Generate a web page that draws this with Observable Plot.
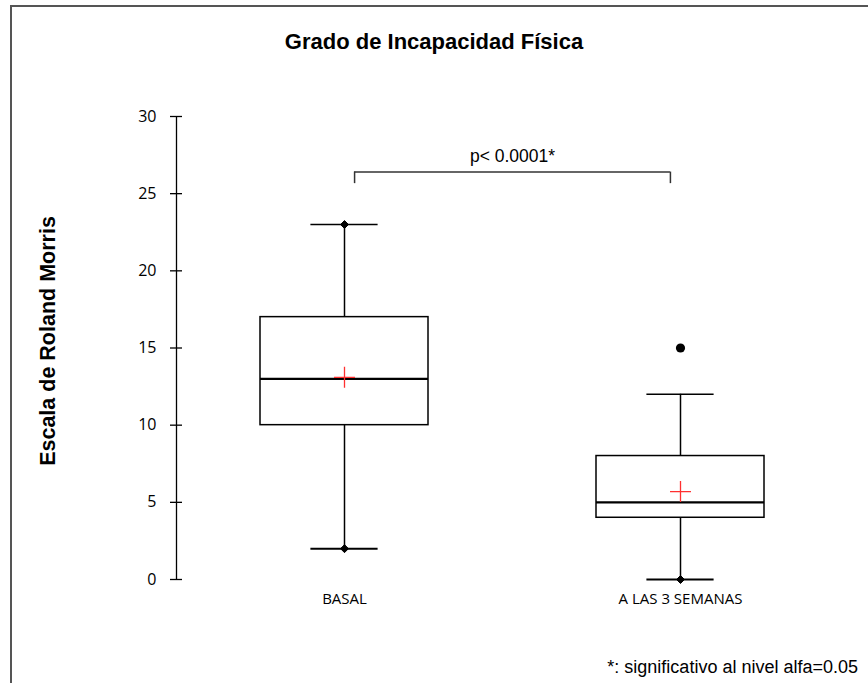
<!DOCTYPE html>
<html>
<head>
<meta charset="utf-8">
<script src="https://cdn.jsdelivr.net/npm/d3@7"></script>
<script src="https://cdn.jsdelivr.net/npm/@observablehq/plot@0.6"></script>
<style>
  html, body { margin: 0; padding: 0; background: #fff; overflow: hidden; }
  #wrap { position: relative; width: 868px; height: 683px; overflow: hidden; }
  #frame { position: absolute; left: 10px; top: 5px; width: 900px; height: 700px;
           border-left: 2px solid #555; border-top: 2px solid #555; }
  #title { position: absolute; left: 0; top: 31px; width: 868px; text-align: center;
           font: bold 22px/22px "Liberation Sans", Arial, sans-serif; color: #000; }
  #note { position: absolute; right: 10px; top: 658px;
          font: 18px/18px "Liberation Sans", Arial, sans-serif; color: #000; }
  #chart { position: absolute; left: 0; top: 0; }
</style>
</head>
<body>
<div id="wrap">
  <div id="frame"></div>
  <div id="chart"></div>
  <div id="title">Grado de Incapacidad Física</div>
  <div id="note">*: significativo al nivel alfa=0.05</div>
</div>
<script>
// ---- data ----
const groups = ["BASAL", "A LAS 3 SEMANAS"];
const positions = [1, 2];
const q1 = [10, 4];
const medians = [13, 5];
const q3 = [17, 8];
const whiskerLow = [2, 0];
const whiskerHigh = [23, 12];
const means = [13.1, 5.7];
const minMaxGroup = [1, 1, 2];
const minMaxValue = [2, 23, 0];
const outlierGroup = [2];
const outlierValue = [15];
const yTicks = [0, 5, 10, 15, 20, 25, 30];
const yLabel = "Escala de Roland Morris";
const pLabel = "p< 0.0001*";
const bracketX = [1.03, 1.97];
const bracketTop = 26.4;
const bracketBottom = 25.65;

// ---- tables ----
const boxes = groups.map((g, i) => ({
  g, x: positions[i], q1: q1[i], med: medians[i], q3: q3[i],
  lo: whiskerLow[i], hi: whiskerHigh[i], mean: means[i]
}));
const minMax = minMaxGroup.map((g, i) => ({x: g, y: minMaxValue[i]}));
const outliers = outlierGroup.map((g, i) => ({x: g, y: outlierValue[i]}));
const halfBox = 0.25, halfCap = 0.1;

const plot = Plot.plot({
  width: 868,
  height: 683,
  marginTop: 116,
  marginBottom: 104,
  marginLeft: 176,
  marginRight: 20,
  x: {type: "linear", domain: [0.5, 2.5], axis: null},
  y: {domain: [0, 30], axis: null},
  style: {fontFamily: "'Open Sans', sans-serif", fontSize: "16px", color: "#000", background: "transparent"},
  marks: [
    // y axis line and crossing ticks
    Plot.ruleX([0.5], {y1: 0, y2: 30, stroke: "#000", strokeWidth: 1.3}),
    Plot.ruleY(yTicks, {y: d => d, x1: 0.5, x2: 0.5, insetLeft: -6, insetRight: -6, stroke: "#000", strokeWidth: 1.3}),
    Plot.text(yTicks, {x: 0.5, y: d => d, text: d => String(d), textAnchor: "end", dx: -20, fontSize: 16, fill: "#000"}),
    // y label
    Plot.text([yLabel], {text: d => d, frameAnchor: "left", textAnchor: "middle", lineAnchor: "middle",
      rotate: -90, dx: -128, dy: -7,
      fontFamily: "'Liberation Sans', Arial, sans-serif", fontWeight: "bold", fontSize: 21.5, fill: "#000"}),
    // whiskers
    Plot.ruleX(boxes, {x: "x", y1: "q3", y2: "hi", stroke: "#000", strokeWidth: 1.5}),
    Plot.ruleX(boxes, {x: "x", y1: "q1", y2: "lo", stroke: "#000", strokeWidth: 1.5}),
    // caps
    Plot.ruleY(boxes, {y: "hi", x1: d => d.x - halfCap, x2: d => d.x + halfCap, stroke: "#000", strokeWidth: 1.5}),
    Plot.ruleY(boxes, {y: "lo", x1: d => d.x - halfCap, x2: d => d.x + halfCap, stroke: "#000", strokeWidth: 2}),
    // boxes
    Plot.rect(boxes, {x1: d => d.x - halfBox, x2: d => d.x + halfBox, y1: "q1", y2: "q3",
      fill: "none", stroke: "#000", strokeWidth: 1.5}),
    // medians
    Plot.ruleY(boxes, {y: "med", x1: d => d.x - halfBox, x2: d => d.x + halfBox, stroke: "#000", strokeWidth: 2.2}),
    // means
    Plot.dot(boxes, {x: "x", y: "mean", symbol: "plus", r: 6.8, stroke: "#ff3030", strokeWidth: 1.3}),
    // min / max markers
    Plot.dot(minMax, {x: "x", y: "y", symbol: "diamond2", r: 3.6, fill: "#000", stroke: "#000", strokeWidth: 1}),
    // outliers
    Plot.dot(outliers, {x: "x", y: "y", r: 4.6, fill: "#000", stroke: "none"}),
    // category labels
    Plot.text(boxes, {x: "x", y: 0, text: "g", dy: 20, fontSize: 15, fill: "#000"}),
    // significance bracket
    Plot.ruleY([bracketTop], {y: d => d, x1: bracketX[0], x2: bracketX[1], stroke: "#333", strokeWidth: 1.5}),
    Plot.ruleX(bracketX, {x: d => d, y1: bracketBottom, y2: bracketTop, stroke: "#333", strokeWidth: 1.5}),
    Plot.text([pLabel], {text: d => d, x: (bracketX[0] + bracketX[1]) / 2, y: bracketTop, dy: -16,
      fontFamily: "'Liberation Sans', Arial, sans-serif", fontSize: 17.5, fill: "#000"})
  ]
});
document.getElementById("chart").appendChild(plot);
</script>
</body>
</html>
